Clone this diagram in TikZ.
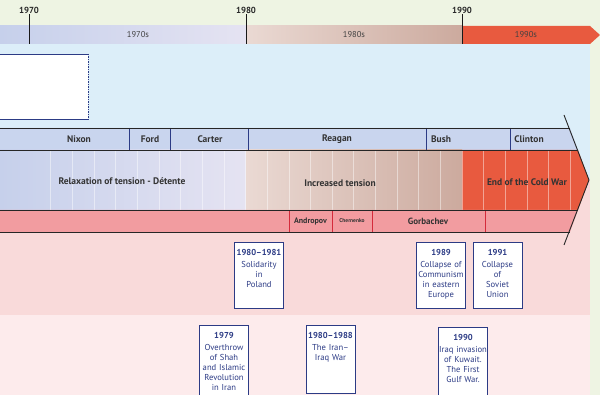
\documentclass[tikz,border=0pt]{standalone}
\usepackage{fontspec}
\setmainfont{PT Sans}
\usepackage{tikz}
\usetikzlibrary{positioning,calc}

\definecolor{bggreen}{HTML}{EEF4E3}
\definecolor{bgblue}{HTML}{DCEEF9}
\definecolor{bgpink}{HTML}{F9DADA}
\definecolor{bgpale}{HTML}{FDEBEC}
\definecolor{navy}{HTML}{2C3B85}
\definecolor{seventiesA}{HTML}{C6D0EB}
\definecolor{seventiesB}{HTML}{BBB1D8}
\definecolor{seventiesC}{HTML}{E5E3F2}
\definecolor{eightiesA}{HTML}{EAD9D3}
\definecolor{eightiesB}{HTML}{CCAA9E}
\definecolor{nineties}{HTML}{E85A3F}
\definecolor{presrow}{HTML}{C9D5EE}
\definecolor{leadrow}{HTML}{F29CA0}
\definecolor{leadline}{HTML}{D42B3B}

\begin{document}
\begin{tikzpicture}[x=1pt, y=-1pt,
  yearlbl/.style={font=\bfseries\fontsize{8.8}{10}\selectfont, text=black!85, inner sep=1pt},
  decade/.style={font=\fontsize{8.5}{10}\selectfont, text=black!75},
  pres/.style={font=\bfseries\fontsize{9.5}{11}\selectfont, text=black!80},
  era/.style={font=\bfseries\fontsize{9.5}{11}\selectfont, text=black!80},
  leader/.style={font=\bfseries\fontsize{9}{11}\selectfont, text=black!80},
  event/.style={draw=navy, line width=0.9pt, fill=white, text=navy, anchor=north, text width=48pt, align=center, inner xsep=0.5pt, inner ysep=2.5pt, text height=11pt, text depth=50pt, font=\fontsize{8.6}{10}\selectfont},
  lowevent/.style={event, text depth=54pt},
  tickline/.style={line width=0.8pt, black!90},
  rowline/.style={line width=0.9pt, black!85},
  stripe/.style={white, opacity=0.45, line width=0.6pt},
]
  \clip (0,0) rectangle (600,395);
  \fill[bggreen] (0,0) rectangle (600,395);
  \fill[bgblue] (0,44) rectangle (590,180);
  \fill[bgpink] (0,180) rectangle (590,315);
  \fill[bgpale] (0,315) rectangle (590,395);

  \shade[left color=seventiesA, middle color=seventiesB, right color=seventiesC] (0,26) rectangle (246,44);
  \shade[left color=eightiesA, right color=eightiesB] (246,26) rectangle (462,44);
  \fill[nineties] (462,26) -- (590,26) -- (600,35) -- (590,44) -- (462,44) -- cycle;
  \node[decade] (d70) at (138,35) {1970s};
  \node[decade] (d80) at (354,35) {1980s};
  \node[decade] (d90) at (526,35) {1990s};

  \node[yearlbl] (y70) at (29,10) {1970};
  \node[yearlbl] (y80) at (246,10) {1980};
  \node[yearlbl] (y90) at (462,10) {1990};
  \foreach \y in {y70,y80,y90}
    \draw[tickline] (\y.south) -- (\y.south |- 0,44);

  \node[fill=white, minimum width=88pt, minimum height=65pt, inner sep=0pt, anchor=north west] (blank) at (0,54) {};
  \draw[navy, line width=0.9pt] (blank.north west) -- (blank.north east);
  \draw[navy, line width=0.9pt, dash pattern=on 1.5pt off 1pt] (blank.north east) -- (blank.south east);
  \draw[navy, line width=0.9pt] (blank.south east) -- (blank.south west);

  \fill[presrow] (0,128) -- (570,128) -- (578,150) -- (0,150) -- cycle;
  \shade[left color=seventiesA, middle color=seventiesB, right color=seventiesC] (0,150) rectangle (246,210);
  \shade[left color=eightiesA, right color=eightiesB] (246,150) rectangle (462,210);
  \fill[nineties] (462,150) -- (578,150) -- (589,180) -- (578,210) -- (462,210) -- cycle;
  \foreach \k in {1,...,25}
    \draw[stripe] ({29+21.65*\k},150) -- ++(0,60);
  \fill[leadrow] (0,210) -- (578,210) -- (570,232) -- (0,232) -- cycle;

  \foreach \x in {129,170,248,426,510}
    \draw[navy, line width=0.7pt] (\x,128) -- (\x,150);
  \foreach \x in {289,332,372,485}
    \draw[leadline, line width=0.7pt] (\x,210) -- (\x,232);
  \draw[rowline] (0,128) -- (570,128);
  \draw[rowline] (0,150) -- (578,150);
  \draw[rowline] (0,210) -- (578,210);
  \draw[rowline] (0,232) -- (570,232);
  \coordinate (tip) at (589,180);
  \draw[rowline] (564,115) -- (tip) -- (564,245);

  \node[pres] (nixon) at (79,139.5) {Nixon};
  \node[pres] (ford) at (150,139.5) {Ford};
  \node[pres] (carter) at (210,139.5) {Carter};
  \node[pres] (reagan) at (337,139.5) {Reagan};
  \node[pres] (bush) at (441,139.5) {Bush};
  \node[pres] (clinton) at (529,139.5) {Clinton};

  \node[era] (detente) at (122,181) {Relaxation of tension - Détente};
  \node[era] (tension) at (340,183) {Increased tension};
  \node[era] (endwar) at (527,182) {End of the Cold War};

  \node[leader, font=\bfseries\fontsize{8}{9}\selectfont] (andropov) at (310.5,221) {Andropov};
  \node[leader, font=\bfseries\fontsize{5.5}{6}\selectfont] (chernenko) at (352,221) {Chernenko};
  \node[leader] (gorbachev) at (428,221) {Gorbachev};

  \node[event] (solidarity) at (259,242) {\textbf{1980–1981}\\[2pt]Solidarity\\in\\Poland};
  \node[event] (communism) at (441,242) {\textbf{1989}\\[2pt]Collapse of\\Communism\\in eastern\\Europe};
  \node[event] (soviet) at (497.5,242) {\textbf{1991}\\[2pt]Collapse\\of\\Soviet\\Union};
  \node[lowevent] (shah) at (224,325) {\textbf{1979}\\[2pt]Overthrow\\of Shah\\and Islamic\\Revolution\\in Iran};
  \node[event, text depth=52pt] (iraniraq) at (330.5,325) {\textbf{1980–1988}\\[2pt]The Iran–\\Iraq War};
  \node[lowevent] (kuwait) at (463,327) {\textbf{1990}\\[2pt]Iraq invasion\\of Kuwait.\\The First\\Gulf War.};
\end{tikzpicture}
\end{document}
